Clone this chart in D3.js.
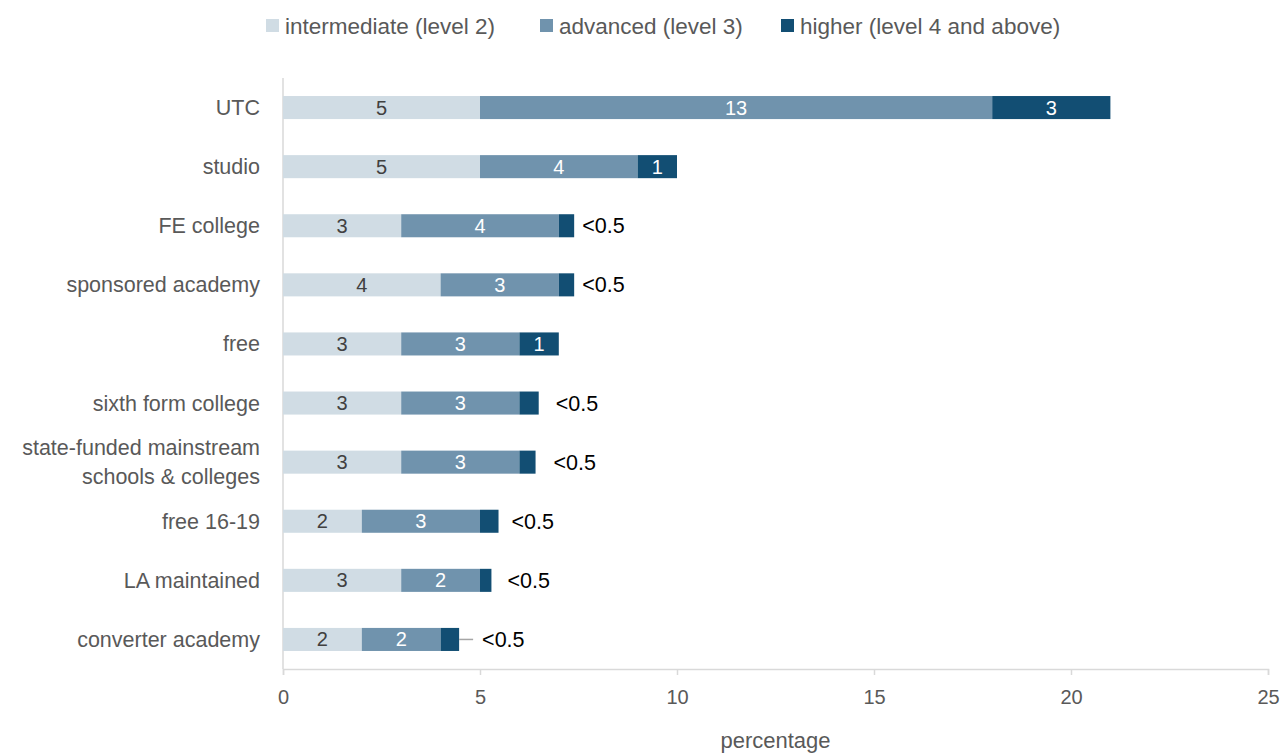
<!DOCTYPE html>
<html>
<head>
<meta charset="utf-8">
<script src="https://cdn.jsdelivr.net/npm/d3@7"></script>
<style>
  html, body { margin: 0; padding: 0; background: #fff; }
  svg { display: block; }
  text { font-family: "Liberation Sans", Arial, sans-serif; }
</style>
</head>
<body>
<svg id="chart" width="1286" height="754"></svg>
<script>
// Share of pupils by qualification level, per institution type (percentage)
const categories = [
  "UTC", "studio", "FE college", "sponsored academy", "free",
  "sixth form college", "state-funded mainstream schools & colleges",
  "free 16-19", "LA maintained", "converter academy"
];
const seriesNames = ["intermediate (level 2)", "advanced (level 3)", "higher (level 4 and above)"];
const intermediate = [5, 5, 3, 4, 3, 3, 3, 2, 3, 2];
const advanced     = [13, 4, 4, 3, 3, 3, 3, 3, 2, 2];
const higher       = [3, 1, 0.39, 0.39, 1, 0.49, 0.41, 0.47, 0.29, 0.47];
// Printed value labels for each series
const intermediateLabels = ["5", "5", "3", "4", "3", "3", "3", "2", "3", "2"];
const advancedLabels     = ["13", "4", "4", "3", "3", "3", "3", "3", "2", "2"];
const higherLabels       = ["3", "1", "<0.5", "<0.5", "1", "<0.5", "<0.5", "<0.5", "<0.5", "<0.5"];
const xTicks = [0, 5, 10, 15, 20, 25];
const xTitle = "percentage";

// Styling
const colors = ["#d0dce4", "#7093ad", "#124e73"];
const insideText = ["#404040", "#ffffff", "#ffffff"];
// Gap (px) between bar end and an outside "<0.5" label; converter academy uses a leader line
const outsideGap = [0, 0, 8, 8, 0, 17, 18, 13, 16, 23];
const leaderLine = [false, false, false, false, false, false, false, false, false, true];

const svg = d3.select("#chart");
const margin = { left: 283, right: 18, top: 78, bottom: 85 };
const W = 1286, H = 754;

const x = d3.scaleLinear().domain([0, 25]).range([margin.left, W - margin.right]);
const y = d3.scaleBand().domain(categories)
  .range([margin.top, H - margin.bottom])
  .paddingInner(0.61).paddingOuter(0.305);

const table = categories.map((c, i) => ({
  category: c,
  [seriesNames[0]]: intermediate[i],
  [seriesNames[1]]: advanced[i],
  [seriesNames[2]]: higher[i]
}));
const labelSets = [intermediateLabels, advancedLabels, higherLabels];
const stacked = d3.stack().keys(seriesNames)(table);

// Axis lines
const axisColor = "#d9d9d9";
svg.append("line")
  .attr("x1", x(0)).attr("x2", x(0))
  .attr("y1", margin.top).attr("y2", H - margin.bottom)
  .attr("stroke", axisColor).attr("stroke-width", 1.5);

const xAxis = svg.append("g")
  .attr("transform", `translate(0,${H - margin.bottom})`)
  .call(d3.axisBottom(x).tickValues(xTicks).tickSize(6).tickPadding(15).tickFormat(d3.format("d")));
xAxis.select(".domain").attr("stroke", axisColor).attr("stroke-width", 1.5);
xAxis.selectAll(".tick line").attr("stroke", axisColor).attr("stroke-width", 1.5);
xAxis.selectAll(".tick text")
  .attr("fill", "#595959").attr("font-size", 20)
  .style("font-family", '"Liberation Sans", Arial, sans-serif');

svg.append("text")
  .attr("x", (x(0) + x(25)) / 2).attr("y", 748)
  .attr("text-anchor", "middle").attr("fill", "#595959").attr("font-size", 22)
  .text(xTitle);

// Category labels (wrapped where needed)
const wrapLines = {
  "state-funded mainstream schools & colleges": ["state-funded mainstream", "schools & colleges"]
};
const catG = svg.append("g");
categories.forEach(c => {
  const lines = wrapLines[c] || [c];
  const cy = y(c) + y.bandwidth() / 2;
  const lh = 29;
  const t = catG.append("text")
    .attr("text-anchor", "end").attr("fill", "#595959").attr("font-size", 21.5);
  lines.forEach((ln, k) => {
    t.append("tspan")
      .attr("x", 260)
      .attr("y", cy + (k - (lines.length - 1) / 2) * lh)
      .attr("dy", "0.35em")
      .text(ln);
  });
});

// Bars
const layers = svg.append("g").selectAll("g").data(stacked).join("g")
  .attr("fill", (d, i) => colors[i]);
layers.selectAll("rect").data(d => d).join("rect")
  .attr("x", d => x(d[0]))
  .attr("width", d => x(d[1]) - x(d[0]))
  .attr("y", d => y(d.data.category))
  .attr("height", y.bandwidth());

// Value labels
stacked.forEach((layer, si) => {
  layer.forEach((d, i) => {
    const label = labelSets[si][i];
    const cy = y(d.data.category) + y.bandwidth() / 2;
    const inside = label !== "<0.5";
    if (inside) {
      svg.append("text")
        .attr("x", (x(d[0]) + x(d[1])) / 2).attr("y", cy).attr("dy", "0.35em")
        .attr("text-anchor", "middle").attr("fill", insideText[si]).attr("font-size", 20)
        .text(label);
    } else {
      const xe = x(d[1]);
      if (leaderLine[i]) {
        svg.append("line")
          .attr("x1", xe).attr("x2", xe + 14).attr("y1", cy).attr("y2", cy)
          .attr("stroke", "#a6a6a6").attr("stroke-width", 1.5);
      }
      svg.append("text")
        .attr("x", xe + outsideGap[i]).attr("y", cy).attr("dy", "0.35em")
        .attr("text-anchor", "start").attr("fill", "#000").attr("font-size", 21.5)
        .text(label);
    }
  });
});

// Legend
const legendX = [266, 540, 781];
seriesNames.forEach((name, i) => {
  const g = svg.append("g").attr("transform", `translate(${legendX[i]},19)`);
  g.append("rect").attr("width", 13).attr("height", 13).attr("fill", colors[i]);
  g.append("text").attr("x", 19).attr("y", 7).attr("dy", "0.35em")
    .attr("fill", "#595959").attr("font-size", 22.5).text(name);
});
</script>
</body>
</html>
